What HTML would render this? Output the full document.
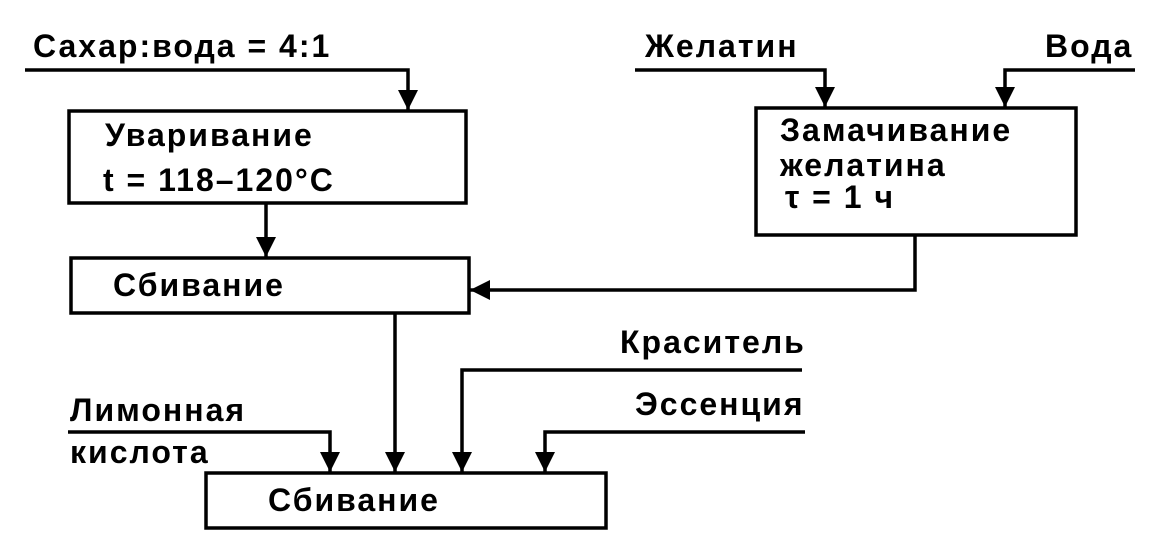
<!DOCTYPE html>
<html><head><meta charset="utf-8"><style>
body{margin:0;background:#fff;}
svg text{font-family:"Liberation Sans",sans-serif;font-size:32px;font-weight:bold;letter-spacing:2px;fill:#000;}
</style></head><body>
<svg width="1159" height="553" viewBox="0 0 1159 553" xmlns="http://www.w3.org/2000/svg">
<defs><marker id="a" markerWidth="22" markerHeight="20" refX="20" refY="10" orient="auto" markerUnits="userSpaceOnUse"><path d="M0,0 L20,10 L0,20 Z" fill="#000"/></marker></defs>
<g fill="none" stroke="#000" stroke-width="3.5">
<rect x="69" y="111" width="397" height="92"/>
<rect x="71" y="258" width="398" height="55"/>
<rect x="756" y="108" width="320" height="127"/>
<rect x="206" y="473" width="400" height="55"/>
<polyline points="25,70 408,70 408,110" marker-end="url(#a)"/>
<polyline points="635,70 825,70 825,107" marker-end="url(#a)"/>
<polyline points="1135,70 1005,70 1005,107" marker-end="url(#a)"/>
<polyline points="266,203 266,257" marker-end="url(#a)"/>
<polyline points="915,235 915,290 470,290" marker-end="url(#a)"/>
<polyline points="395,313 395,472" marker-end="url(#a)"/>
<polyline points="68,432 330,432 330,472" marker-end="url(#a)"/>
<polyline points="802,370 462,370 462,472" marker-end="url(#a)"/>
<polyline points="805,432 545,432 545,472" marker-end="url(#a)"/>
</g>
<text x="33" y="57">Сахар:вода = 4:1</text>
<text x="105" y="146">Уваривание</text>
<text x="103" y="191">t = 118–120°C</text>
<text x="113" y="296">Сбивание</text>
<text x="645" y="57">Желатин</text>
<text x="1045" y="57">Вода</text>
<text x="780" y="141">Замачивание</text>
<text x="780" y="176">желатина</text>
<text x="785" y="208">τ = 1 ч</text>
<text x="620" y="353">Краситель</text>
<text x="635" y="415">Эссенция</text>
<text x="70" y="421">Лимонная</text>
<text x="70" y="463">кислота</text>
<text x="268" y="511">Сбивание</text>
</svg>
</body></html>
